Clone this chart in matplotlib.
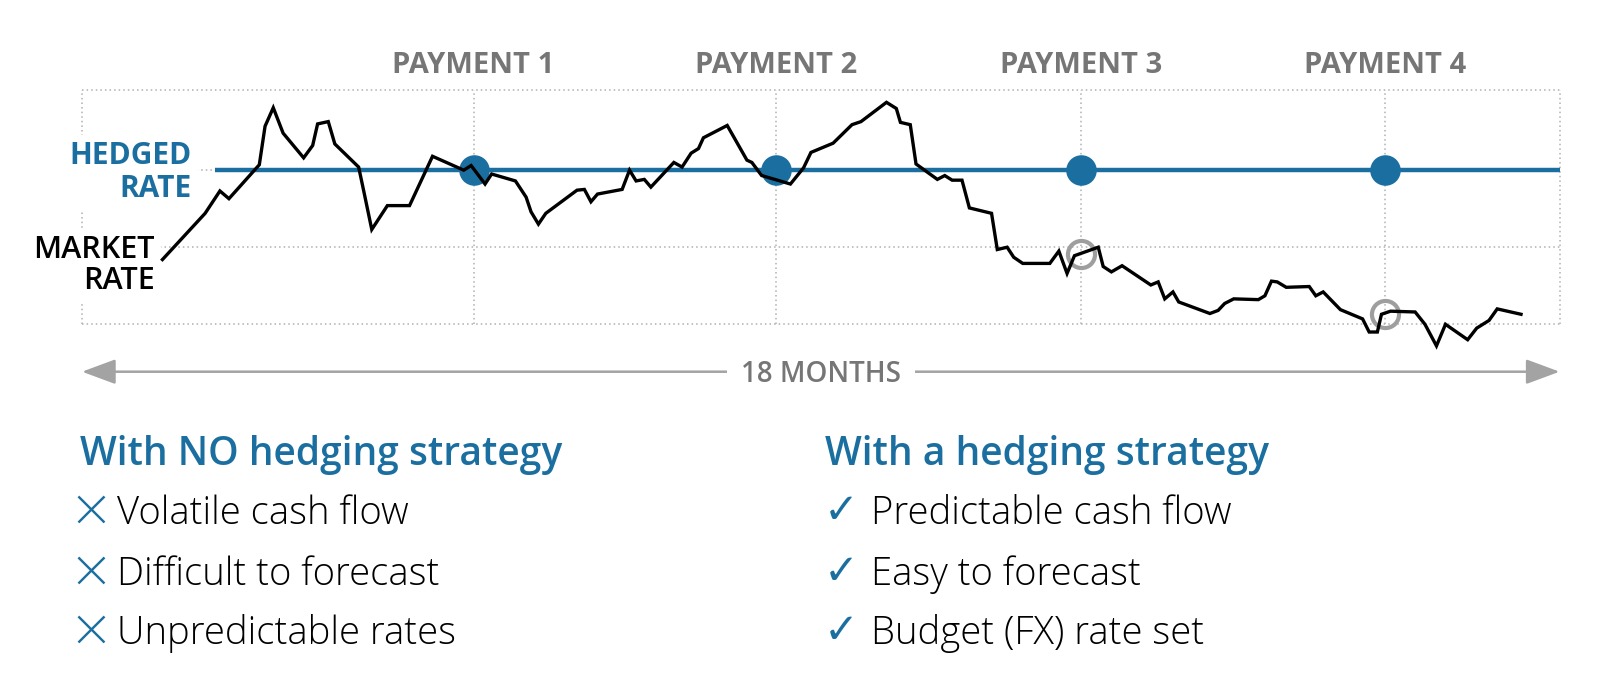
import matplotlib
matplotlib.use('Agg')
import matplotlib.pyplot as plt
import matplotlib.transforms as mtransforms
from matplotlib.patches import ArrowStyle

plt.rcParams['font.family'] = ['Open Sans', 'DejaVu Sans']

BLUE = '#1b6fa0'
GRAY_TEXT = '#767676'
GRID = '#b0b0b0'

# 市场汇率走势：横轴为月份 (0-18)，纵轴为汇率指数 (底部网格=0, 锁定汇率=2)
market_month = [0.98, 1.50, 1.68, 1.79, 2.16, 2.23, 2.33, 2.45, 2.70, 2.81,
                2.87, 3.00, 3.08, 3.37, 3.43, 3.53, 3.72, 3.99, 4.27, 4.65,
                4.74, 4.91, 4.99, 5.28, 5.41, 5.47, 5.56, 5.65, 6.03, 6.12,
                6.20, 6.28, 6.58, 6.67, 6.75, 6.85, 6.93, 7.21, 7.31, 7.42,
                7.51, 7.57, 7.86, 8.10, 8.16, 8.28, 8.63, 8.79, 8.88, 9.15,
                9.38, 9.49, 9.80, 9.92, 9.97, 10.09, 10.16, 10.42, 10.51, 10.60,
                10.72, 10.81, 11.08, 11.15, 11.27, 11.35, 11.46, 11.79, 11.90, 12.00,
                12.09, 12.38, 12.44, 12.54, 12.67, 13.02, 13.11, 13.19, 13.29, 13.36,
                13.74, 13.84, 13.92, 14.03, 14.33, 14.41, 14.49, 14.56, 14.67, 14.95,
                15.03, 15.12, 15.33, 15.60, 15.68, 15.78, 15.83, 15.94, 16.24, 16.36,
                16.50, 16.61, 16.88, 16.99, 17.14, 17.24, 17.53]
market_rate = [0.84, 1.44, 1.73, 1.63, 2.07, 2.57, 2.81, 2.48, 2.16, 2.32,
               2.60, 2.63, 2.34, 2.04, 1.74, 1.23, 1.54, 1.54, 2.18, 2.00,
               2.06, 1.82, 1.95, 1.86, 1.65, 1.46, 1.30, 1.44, 1.74, 1.75,
               1.59, 1.69, 1.75, 2.00, 1.86, 1.88, 1.78, 2.10, 2.04, 2.22,
               2.28, 2.42, 2.58, 2.13, 2.10, 1.93, 1.82, 2.03, 2.23, 2.35,
               2.59, 2.63, 2.88, 2.80, 2.62, 2.59, 2.08, 1.88, 1.93, 1.87,
               1.87, 1.51, 1.44, 0.97, 1.00, 0.87, 0.79, 0.79, 0.95, 0.66,
               0.89, 1.00, 0.75, 0.68, 0.76, 0.51, 0.55, 0.33, 0.42, 0.29,
               0.14, 0.18, 0.27, 0.33, 0.32, 0.37, 0.56, 0.55, 0.48, 0.49,
               0.37, 0.42, 0.19, 0.07, -0.10, -0.10, 0.13, 0.17, 0.16, 0.00,
               -0.28, 0.00, -0.20, -0.05, 0.05, 0.20, 0.13]

payment_labels = ['PAYMENT 1', 'PAYMENT 2', 'PAYMENT 3', 'PAYMENT 4']
payment_month = [4.77, 8.46, 12.17, 15.87]
hedged_rate = 2.0
hedge_start = 1.62
grid_rates = [0, 1, 2, 3.04]
total_months = 18

# 未锁定时付款日的市场汇率
open_month = [12.17, 15.87]
open_rate = [0.91, 0.14]

left_title = 'With NO hedging strategy'
left_items = ['Volatile cash flow', 'Difficult to forecast', 'Unpredictable rates']
right_title = 'With a hedging strategy'
right_items = ['Predictable cash flow', 'Easy to forecast', 'Budget (FX) rate set']

W, H = 1607, 692
fig = plt.figure(figsize=(W / 100, H / 100), dpi=100)
ax = fig.add_axes([82 / W, 1 - 324.3 / H, (1559.6 - 82) / W, (324.3 - 90) / H])
ax.set_xlim(0, total_months)
ax.set_ylim(grid_rates[0], grid_rates[-1])
ax.axis('off')


def fx(x):
    return x / W


def fy(y):
    return 1 - y / H


x_fig = mtransforms.blended_transform_factory(ax.transData, fig.transFigure)

# 点状网格
dots = dict(color=GRID, lw=1.1, ls=(0, (1, 2)), clip_on=False, zorder=1)
for r in grid_rates:
    ax.axhline(r, **dots)
for m in [0] + payment_month + [total_months]:
    ax.axvline(m, **dots)

# 锁定汇率线 + 付款点
ax.hlines(hedged_rate, hedge_start, total_months, color=BLUE, lw=3.2, zorder=3)
ax.plot(payment_month, [hedged_rate] * len(payment_month), 'o', ms=22,
        color=BLUE, mec='none', zorder=4)
ax.plot(open_month, open_rate, 'o', ms=19.5, mfc='none', mec='#9e9e9e',
        mew=3.0, zorder=4, clip_on=False)

# 市场汇率线
ax.plot(market_month, market_rate, color='black', lw=2.4, zorder=6,
        clip_on=False, solid_joinstyle='miter')

# 付款标签
for lab, m in zip(payment_labels, payment_month):
    ax.text(m, fy(73.3), lab, transform=x_fig, ha='center', va='baseline',
            fontsize=21, fontweight='bold', color=GRAY_TEXT)

white = dict(boxstyle='square,pad=0.2', fc='white', ec='none')
ax.text(fx(192), fy(196.7), 'HEDGED\nRATE', transform=fig.transFigure,
        ha='right', va='baseline', multialignment='right', fontsize=21.5,
        fontweight='bold', color=BLUE, linespacing=1.1, bbox=white, zorder=5)
ax.text(fx(154.6), fy(289), 'MARKET\nRATE', transform=fig.transFigure,
        ha='right', va='baseline', multialignment='right', fontsize=22,
        fontweight='semibold', color='black', linespacing=1.05, bbox=white, zorder=5)

# 18个月箭头
ax.annotate('', xy=(total_months, fy(371.7)), xytext=(0, fy(371.7)),
            xycoords=x_fig, textcoords=x_fig,
            arrowprops=dict(arrowstyle=ArrowStyle('<|-|>', head_length=1.04, head_width=0.385),
                            mutation_scale=20, color='#a3a3a3', lw=1.8,
                            shrinkA=0, shrinkB=0))
ax.text(total_months / 2, fy(381.7), '18 MONTHS', transform=x_fig,
        ha='center', va='baseline', fontsize=20, fontweight='semibold',
        color=GRAY_TEXT, bbox=dict(boxstyle='square,pad=0.5', fc='white', ec='none'),
        zorder=7)

# 下方对比列表
row_base = [524, 585, 644]
ax.text(fx(80), fy(465), left_title, transform=fig.transFigure, ha='left',
        va='baseline', fontsize=28, fontweight='semibold', color=BLUE)
ax.text(fx(825), fy(465), right_title, transform=fig.transFigure, ha='left',
        va='baseline', fontsize=28, fontweight='semibold', color=BLUE)
for item, yb in zip(left_items, row_base):
    ax.text(fx(91), fy(yb - 9), '\u00d7', transform=fig.transFigure, ha='center',
            va='center', fontsize=44, fontweight='light', color=BLUE)
    ax.text(fx(117), fy(yb), item, transform=fig.transFigure, ha='left',
            va='baseline', fontsize=27.5, fontweight='light', color='black')
for item, yb in zip(right_items, row_base):
    ax.text(fx(841), fy(yb - 13), '\u2713', transform=fig.transFigure, ha='center',
            va='center', fontsize=30, color=BLUE, family=['DejaVu Sans'])
    ax.text(fx(871), fy(yb), item, transform=fig.transFigure, ha='left',
            va='baseline', fontsize=27.5, fontweight='light', color='black')

fig.savefig('out.png', dpi=100, facecolor='white')
